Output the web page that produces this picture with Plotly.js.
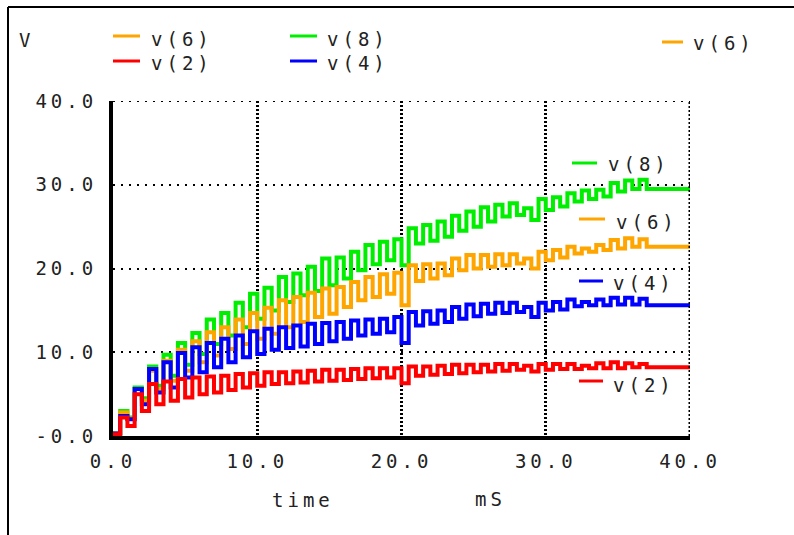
<!DOCTYPE html>
<html>
<head>
<meta charset="utf-8">
<script src="https://cdn.plot.ly/plotly-3.0.1.min.js"></script>
<style>
  html, body { margin: 0; padding: 0; background: #fff; }
  #chart { width: 794px; height: 535px; }
  #chart svg text { letter-spacing: 4px; }
</style>
</head>
<body>
<div id="chart"></div>
<script>
// ---- data (time in mS, voltages in V) ----
const time = [0,0.5,1,1.5,2,2.5,3,3.5,4,4.5,5,5.5,6,6.5,7,7.5,8,8.5,9,9.5,10,10.5,11,11.5,12,12.5,13,13.5,14,14.5,15,15.5,16,16.5,17,17.5,18,18.5,19,19.5,20,20.5,21,21.5,22,22.5,23,23.5,24,24.5,25,25.5,26,26.5,27,27.5,28,28.5,29,29.5,30,30.5,31,31.5,32,32.5,33,33.5,34,34.5,35,35.5,36,36.5,37,40];

const v8 = [0.3,3.0,2.2,5.8,4.5,8.3,6.0,9.7,7.2,11.1,8.5,12.3,9.8,13.9,11.0,14.7,12.0,15.9,13.0,17.0,14.0,17.7,15.0,19.0,16.0,19.4,16.8,20.2,17.3,21.2,18.0,21.3,18.8,22.0,19.8,22.8,20.5,23.2,21.0,23.5,20.4,24.8,23.0,25.2,23.3,25.6,23.8,26.3,24.5,26.8,25.0,27.3,25.6,27.6,26.2,27.8,26.4,27.2,25.8,28.3,27.0,28.5,27.4,29.0,28.0,29.3,28.3,29.4,28.6,30.2,29.2,30.5,29.5,30.6,29.5,29.5];

const v6 = [0.3,2.8,2.1,5.6,4.2,7.8,5.6,9.0,6.6,10.3,7.8,11.3,8.8,12.4,9.6,13.0,10.4,13.9,11.0,14.7,11.6,15.3,12.2,16.2,13.0,16.6,13.6,17.1,14.2,17.6,14.6,17.8,15.4,18.4,16.2,19.0,16.6,19.3,17.0,19.5,15.6,20.4,18.5,20.5,18.8,20.6,19.2,21.2,19.8,21.6,20.0,21.6,20.2,21.7,20.4,21.7,20.6,21.2,20.0,22.0,21.0,22.2,21.3,22.6,21.8,22.4,22.0,22.8,22.2,23.4,22.4,23.6,22.6,23.5,22.6,22.6];

const v4 = [0.3,2.4,2.0,5.6,3.8,8.0,5.2,8.8,5.8,9.9,7.0,10.6,7.6,11.1,8.2,11.6,8.8,12.0,9.4,12.5,9.8,12.8,10.3,13.0,10.5,13.2,10.7,13.4,11.0,13.5,11.3,13.6,11.6,13.8,12.0,13.9,12.2,14.0,12.4,14.2,11.1,14.8,13.2,14.9,13.4,15.0,13.6,15.4,14.0,15.7,14.3,15.8,14.6,15.9,14.7,15.9,14.8,15.4,14.2,15.9,15.0,16.0,15.1,16.3,15.5,16.0,15.6,16.3,15.6,16.5,15.7,16.5,15.7,16.4,15.6,15.6];

const v2 = [0.2,2.2,1.2,5.0,3.0,6.2,3.8,6.5,4.2,6.8,4.6,7.0,5.0,7.1,5.2,7.2,5.5,7.4,5.8,7.5,6.0,7.6,6.2,7.6,6.3,7.7,6.4,7.8,6.5,7.9,6.6,7.9,6.7,8.0,6.8,8.1,6.9,8.1,7.0,8.1,6.3,8.3,7.2,8.3,7.3,8.4,7.4,8.5,7.5,8.5,7.6,8.5,7.7,8.6,7.8,8.6,7.9,8.4,7.7,8.6,7.9,8.6,8.0,8.6,8.0,8.4,8.1,8.7,8.1,8.8,8.1,8.7,8.2,8.6,8.2,8.2];

const xTickVals = [0,10,20,30,40];
const xTickText = ['0.0','10.0','20.0','30.0','40.0'];
const yTickVals = [0,10,20,30,40];
const yTickText = ['-0.0','10.0','20.0','30.0','40.0'];

const seriesNames = ['v(8)','v(6)','v(4)','v(2)'];
const seriesColors = ['#00ee00','#ffa500','#0000ff','#ff0000'];
const seriesData = [v8, v6, v4, v2];

// ---- layout helpers (pixel -> paper) ----
const W = 794, H = 535, L = 113, R = 690, T = 101, B = 436;
const px = x => (x - L) / (R - L);
const py = y => (B - y) / (B - T);

const FONT = {family: 'DejaVu Sans Mono, monospace', size: 19, color: '#222'};

const traces = seriesData.map((d, i) => ({
  x: time, y: d, type: 'scatter', mode: 'lines', name: seriesNames[i],
  line: {color: seriesColors[i], width: 4, shape: 'hv'},
  hoverinfo: 'skip'
}));

function seg(x0, x1, y, color, w) {
  return {type: 'line', xref: 'paper', yref: 'paper', x0: px(x0), x1: px(x1), y0: py(y), y1: py(y),
          line: {color: color, width: w || 3}};
}
function label(text, x, y, anchor) {
  return {text: text, xref: 'paper', yref: 'paper', x: px(x), y: py(y), showarrow: false,
          xanchor: anchor || 'left', yanchor: 'middle', font: FONT, borderpad: 0};
}

const shapes = [
  // frame
  {type: 'line', xref: 'paper', yref: 'paper', x0: px(8), x1: px(800), y0: py(7), y1: py(7), line: {color: '#000', width: 2}},
  {type: 'line', xref: 'paper', yref: 'paper', x0: px(8), x1: px(8), y0: py(7), y1: py(540), line: {color: '#000', width: 2}},
  // edge grid lines at 40
  {type: 'line', xref: 'x', yref: 'y', x0: 0, x1: 40, y0: 40, y1: 40, line: {color: '#000', width: 2, dash: '2px,6px'}},
  {type: 'line', xref: 'x', yref: 'y', x0: 40, x1: 40, y0: 0, y1: 40, line: {color: '#000', width: 3, dash: '2px,2px'}},
  // legend keys
  seg(113, 140, 36, '#ffa500'),
  seg(113, 140, 61, '#ff0000'),
  seg(290, 317, 36, '#00ee00'),
  seg(290, 317, 61, '#0000ff'),
  seg(662, 683, 42, '#ffa500'),
  seg(572, 597, 163, '#00ee00'),
  seg(579, 605, 219, '#ffa500'),
  seg(579, 603, 281, '#0000ff'),
  seg(579, 603, 381, '#ff0000')
];

const annotations = [
  label('V', 20, 40),
  label('v(6)', 158, 39),
  label('v(2)', 158, 63),
  label('v(8)', 334, 39),
  label('v(4)', 334, 63),
  label('v(6)', 700, 43),
  label('v(8)', 615, 164),
  label('v(6)', 623, 222),
  label('v(4)', 620, 283),
  label('v(2)', 620, 385),
  label('time', 279, 500),
  label('mS', 478, 499)
];

const layout = {
  width: W, height: H,
  margin: {l: L, r: W - R, t: T, b: H - B, pad: 0},
  paper_bgcolor: '#fff', plot_bgcolor: '#fff',
  showlegend: false,
  font: FONT,
  xaxis: {
    range: [0, 40], tickvals: xTickVals, ticktext: xTickText,
    showline: true, linecolor: '#000', linewidth: 4,
    showgrid: true, gridcolor: '#000', gridwidth: 3, griddash: '2px,2px',
    zeroline: false, ticks: '', ticklabelstandoff: 5,
    tickfont: FONT, fixedrange: true
  },
  yaxis: {
    range: [0, 40], tickvals: yTickVals, ticktext: yTickText,
    showline: true, linecolor: '#000', linewidth: 4,
    showgrid: true, gridcolor: '#000', gridwidth: 2, griddash: '2px,6px',
    zeroline: false, ticks: '', ticklabelstandoff: 8,
    tickfont: FONT, fixedrange: true
  },
  shapes: shapes,
  annotations: annotations
};

Plotly.newPlot('chart', traces, layout, {staticPlot: true, displayModeBar: false});
</script>
</body>
</html>
